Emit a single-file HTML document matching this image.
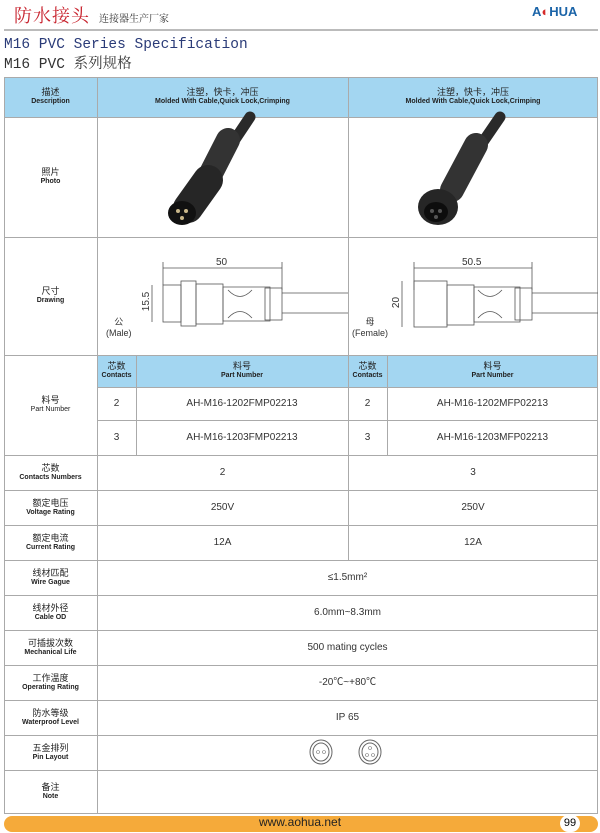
<!DOCTYPE html>
<html><head><meta charset="utf-8"><style>
body{margin:0;width:600px;height:833px;background:#fff;position:relative;overflow:hidden;font-family:"Liberation Sans","Noto Sans CJK SC",sans-serif;}
.a{position:absolute}
.c{position:absolute;display:flex;flex-direction:column;align-items:center;justify-content:center;text-align:center;font-size:9px;color:#222;line-height:1.2}
.c b{font-size:7px}
.h{background:#a3d6f1}
.hl{position:absolute;height:1px;background:#aaa}
.vl{position:absolute;width:1px;background:#aaa}
.v{font-size:10px;color:#333}
</style></head><body>
<div class="a" style="left:14px;top:4px;font-family:'Noto Serif CJK SC',serif;font-size:18px;line-height:22px;color:#c8242f;letter-spacing:1px">防水接头</div>
<div class="a" style="left:99px;top:11px;font-family:'Noto Serif CJK SC',serif;font-size:10px;line-height:14px;color:#333">连接器生产厂家</div>
<div class="a" style="left:532px;top:4px;font-size:13px;line-height:16px;font-weight:bold;color:#1b64a8">A<span style="color:#d52a2a">◐</span>HUA</div>
<div class="a" style="left:4px;top:29px;width:594px;height:2px;background:#bbb"></div>
<div class="a" style="left:4px;top:36px;font-family:'Liberation Mono',monospace;font-size:14.5px;line-height:18px;color:#2a3b78">M16 PVC Series Specification</div>
<div class="a" style="left:4px;top:56px;font-family:'Liberation Mono','Noto Serif CJK SC',monospace;font-size:14.5px;line-height:18px;color:#333">M16 PVC 系列规格</div>

<div class="a h" style="left:4px;top:77px;width:594px;height:40px"></div>
<div class="a h" style="left:97px;top:355px;width:501px;height:32px"></div>
<div class="c" style="left:4px;top:77px;width:93px;height:40px">描述<b>Description</b></div>
<div class="c" style="left:97px;top:77px;width:251px;height:40px">注塑，快卡，冲压<b>Molded With Cable,Quick Lock,Crimping</b></div>
<div class="c" style="left:348px;top:77px;width:250px;height:40px">注塑，快卡，冲压<b>Molded With Cable,Quick Lock,Crimping</b></div>

<div class="hl" style="left:4px;width:594px;top:77px"></div>
<div class="hl" style="left:4px;width:594px;top:117px"></div>
<div class="hl" style="left:4px;width:594px;top:237px"></div>
<div class="hl" style="left:4px;width:594px;top:355px"></div>
<div class="hl" style="left:97px;width:501px;top:387px"></div>
<div class="hl" style="left:97px;width:501px;top:420px"></div>
<div class="hl" style="left:4px;width:594px;top:455px"></div>
<div class="hl" style="left:4px;width:594px;top:490px"></div>
<div class="hl" style="left:4px;width:594px;top:525px"></div>
<div class="hl" style="left:4px;width:594px;top:560px"></div>
<div class="hl" style="left:4px;width:594px;top:595px"></div>
<div class="hl" style="left:4px;width:594px;top:630px"></div>
<div class="hl" style="left:4px;width:594px;top:665px"></div>
<div class="hl" style="left:4px;width:594px;top:700px"></div>
<div class="hl" style="left:4px;width:594px;top:735px"></div>
<div class="hl" style="left:4px;width:594px;top:770px"></div>
<div class="hl" style="left:4px;width:594px;top:813px"></div>
<div class="vl" style="left:4px;top:77px;height:737px"></div>
<div class="vl" style="left:597px;top:77px;height:737px"></div>
<div class="vl" style="left:97px;top:77px;height:737px"></div>
<div class="vl" style="left:348px;top:77px;height:483px"></div>
<div class="vl" style="left:136px;top:355px;height:100px"></div>
<div class="vl" style="left:387px;top:355px;height:100px"></div>

<div class="c" style="left:4px;top:117px;width:93px;height:120px">照片<b>Photo</b></div>
<div class="c" style="left:4px;top:237px;width:93px;height:118px">尺寸<b>Drawing</b></div>
<div class="c" style="left:4px;top:355px;width:93px;height:100px">料号<b style="font-weight:normal">Part Number</b></div>
<div class="c" style="left:97px;top:355px;width:39px;height:32px">芯数<b>Contacts</b></div>
<div class="c" style="left:136px;top:355px;width:212px;height:32px">料号<b>Part Number</b></div>
<div class="c" style="left:348px;top:355px;width:39px;height:32px">芯数<b>Contacts</b></div>
<div class="c" style="left:387px;top:355px;width:211px;height:32px">料号<b>Part Number</b></div>
<div class="c v" style="left:97px;top:387px;width:39px;height:33px">2</div>
<div class="c v" style="left:136px;top:387px;width:212px;height:33px">AH-M16-1202FMP02213</div>
<div class="c v" style="left:348px;top:387px;width:39px;height:33px">2</div>
<div class="c v" style="left:387px;top:387px;width:211px;height:33px">AH-M16-1202MFP02213</div>
<div class="c v" style="left:97px;top:420px;width:39px;height:35px">3</div>
<div class="c v" style="left:136px;top:420px;width:212px;height:35px">AH-M16-1203FMP02213</div>
<div class="c v" style="left:348px;top:420px;width:39px;height:35px">3</div>
<div class="c v" style="left:387px;top:420px;width:211px;height:35px">AH-M16-1203MFP02213</div>

<div class="c" style="left:4px;top:455px;width:93px;height:35px">芯数<b>Contacts Numbers</b></div>
<div class="c v" style="left:97px;top:455px;width:251px;height:35px">2</div>
<div class="c v" style="left:348px;top:455px;width:250px;height:35px">3</div>
<div class="c" style="left:4px;top:490px;width:93px;height:35px">额定电压<b>Voltage Rating</b></div>
<div class="c v" style="left:97px;top:490px;width:251px;height:35px">250V</div>
<div class="c v" style="left:348px;top:490px;width:250px;height:35px">250V</div>
<div class="c" style="left:4px;top:525px;width:93px;height:35px">额定电流<b>Current Rating</b></div>
<div class="c v" style="left:97px;top:525px;width:251px;height:35px">12A</div>
<div class="c v" style="left:348px;top:525px;width:250px;height:35px">12A</div>
<div class="c" style="left:4px;top:560px;width:93px;height:35px">线材匹配<b>Wire Gague</b></div>
<div class="c v" style="left:97px;top:560px;width:501px;height:35px">≤1.5mm²</div>
<div class="c" style="left:4px;top:595px;width:93px;height:35px">线材外径<b>Cable OD</b></div>
<div class="c v" style="left:97px;top:595px;width:501px;height:35px">6.0mm~8.3mm</div>
<div class="c" style="left:4px;top:630px;width:93px;height:35px">可插拔次数<b>Mechanical Life</b></div>
<div class="c v" style="left:97px;top:630px;width:501px;height:35px">500 mating cycles</div>
<div class="c" style="left:4px;top:665px;width:93px;height:35px">工作温度<b>Operating Rating</b></div>
<div class="c v" style="left:97px;top:665px;width:501px;height:35px">-20℃~+80℃</div>
<div class="c" style="left:4px;top:700px;width:93px;height:35px">防水等级<b>Waterproof Level</b></div>
<div class="c v" style="left:97px;top:700px;width:501px;height:35px">IP 65</div>
<div class="c" style="left:4px;top:735px;width:93px;height:35px">五金排列<b>Pin Layout</b></div>
<div class="c" style="left:4px;top:770px;width:93px;height:43px">备注<b>Note</b></div>

<svg class="a" style="left:0;top:0" width="600" height="833">
<g fill="none" stroke="#666">
<ellipse cx="321" cy="752" rx="11" ry="12"/><ellipse cx="321" cy="752" rx="8" ry="9"/>
<ellipse cx="370" cy="752" rx="11" ry="12"/><ellipse cx="370" cy="752" rx="8" ry="9"/>
</g>
<g fill="none" stroke="#777" stroke-width="0.6"><circle cx="318" cy="752" r="1.5"/><circle cx="324" cy="752" r="1.5"/><circle cx="370" cy="748" r="1.5"/><circle cx="367" cy="755" r="1.5"/><circle cx="373" cy="755" r="1.5"/></g>
<g stroke-linecap="round">
<line x1="250" y1="117" x2="228" y2="150" stroke="#2a2a2a" stroke-width="11"/>
<line x1="228" y1="140" x2="205" y2="185" stroke="#333" stroke-width="24"/>
<line x1="208" y1="180" x2="188" y2="208" stroke="#262626" stroke-width="30"/>
<ellipse cx="182" cy="213" rx="14" ry="12" fill="#111"/>
<circle cx="178" cy="211" r="2" fill="#c9b78a"/><circle cx="186" cy="211" r="2" fill="#c9b78a"/><circle cx="182" cy="218" r="2" fill="#c9b78a"/>
<line x1="500" y1="117" x2="474" y2="155" stroke="#2a2a2a" stroke-width="11"/>
<line x1="476" y1="145" x2="452" y2="190" stroke="#333" stroke-width="24"/>
<ellipse cx="438" cy="207" rx="20" ry="18" fill="#262626"/>
<ellipse cx="436" cy="212" rx="12" ry="10" fill="#0d0d0d"/>
<circle cx="432" cy="211" r="2" fill="#555"/><circle cx="440" cy="211" r="2" fill="#555"/><circle cx="436" cy="217" r="2" fill="#555"/>
</g>
<g fill="none" stroke="#555" stroke-width="0.8">
<line x1="163" y1="268" x2="282" y2="268"/><line x1="163" y1="262" x2="163" y2="285"/><line x1="282" y1="262" x2="282" y2="290"/>
<line x1="152" y1="285" x2="152" y2="322"/>
<rect x="163" y="285" width="18" height="37"/><rect x="181" y="281" width="15" height="45"/><rect x="196" y="284" width="27" height="40"/>
<path d="M223 287 H270 V321 H223 Z M228 290 Q240 303 252 290 M228 318 Q240 305 252 318"/>
<rect x="265" y="288" width="17" height="32"/>
<line x1="282" y1="293" x2="348" y2="293"/><line x1="282" y1="313" x2="348" y2="313"/>
<line x1="414" y1="268" x2="532" y2="268"/><line x1="414" y1="262" x2="414" y2="290"/><line x1="532" y1="262" x2="532" y2="290"/>
<line x1="402" y1="281" x2="402" y2="327"/>
<rect x="414" y="281" width="33" height="46"/><rect x="447" y="285" width="27" height="40"/>
<path d="M474 287 H520 V322 H474 Z M478 290 Q490 303 502 290 M478 318 Q490 305 502 318"/>
<rect x="515" y="288" width="17" height="32"/>
<line x1="532" y1="293" x2="598" y2="293"/><line x1="532" y1="313" x2="598" y2="313"/>
</g>
</svg>
<div class="a" style="left:216px;top:257px;font-size:10px;color:#333">50</div>
<div class="a" style="left:462px;top:257px;font-size:10px;color:#333">50.5</div>
<div class="a" style="left:137px;top:296px;font-size:10px;color:#333;transform:rotate(-90deg)">15.5</div>
<div class="a" style="left:391px;top:297px;font-size:10px;color:#333;transform:rotate(-90deg)">20</div>
<div class="a" style="left:106px;top:315px;font-size:9px;color:#333;text-align:center">公<br>(Male)</div>
<div class="a" style="left:352px;top:315px;font-size:9px;color:#333;text-align:center">母<br>(Female)</div>

<div class="a" style="left:4px;top:816px;width:594px;height:16px;background:#f5aa3a;border-radius:8px"></div>
<div class="a" style="left:0;top:815px;width:600px;text-align:center;font-size:12px;color:#222">www.aohua.net</div>
<div class="a" style="left:560px;top:815px;width:20px;height:17px;border-radius:9px;background:#fff;font-size:11px;text-align:center;line-height:17px">99</div>
</body></html>
